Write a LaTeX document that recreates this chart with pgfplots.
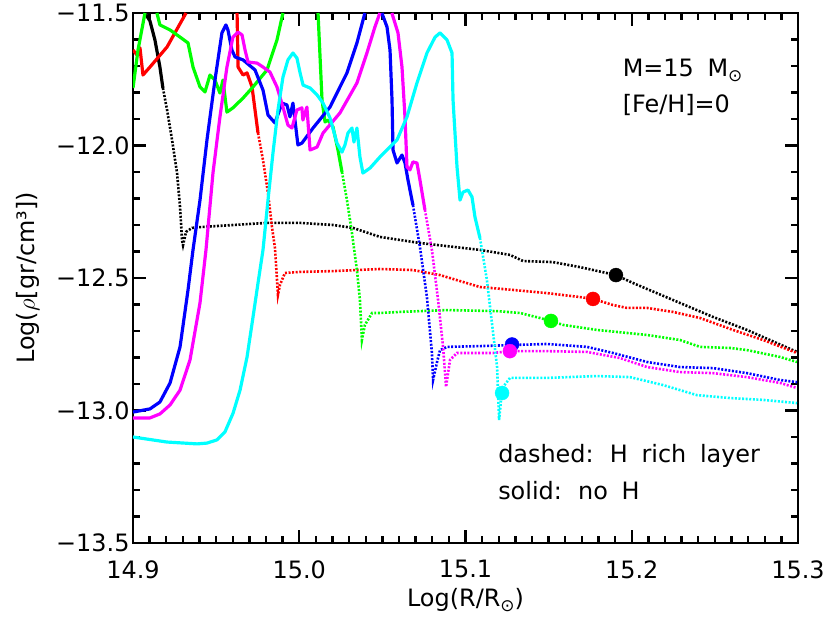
\documentclass[border=0pt]{standalone}
\usepackage{pgfplots}
\pgfplotsset{compat=1.18}
\usepackage{fontspec}
\setmainfont{DejaVu Sans}
\newfontfamily\widefont{DejaVu Sans}[WordSpace=1.8]

\definecolor{cred}{RGB}{255,0,0}
\definecolor{cgreen}{RGB}{0,255,0}
\definecolor{cblue}{RGB}{0,0,255}
\definecolor{cmag}{RGB}{255,0,255}
\definecolor{ccyan}{RGB}{0,255,255}

\newcommand{\sun}{\raisebox{-0.35ex}{\fontsize{17}{19}\selectfont ⊙}}

\pgfplotsset{
  noH/.style={line width=3.2pt, line join=round, no marks},
  richH/.style={line width=2.6pt, dash pattern=on 2pt off 1.6pt, no marks},
  bigdot/.style={only marks, mark=*, mark size=7bp},
}

\begin{document}
\begin{tikzpicture}
\path[use as bounding box] (-133bp,-80bp) rectangle (697bp,543bp);
\begin{axis}[
  at={(0,0)}, anchor=south west,
  scale only axis, width=665bp, height=530bp,
  xmin=14.9, xmax=15.3, ymin=-13.5, ymax=-11.5,
  xtick={14.9,15.0,15.1,15.2,15.3},
  xticklabels={14.9,15.0,15.1,15.2,15.3},
  ytick={-13.5,-13,-12.5,-12,-11.5},
  yticklabels={−13.5,−13.0,−12.5,−12.0,−11.5},
  minor x tick num=9, minor y tick num=4,
  xtick pos=both, ytick pos=both,
  major tick length=13bp, minor tick length=7bp,
  tick style={line width=2.4pt, black},
  axis line style={line width=2.8pt},
  tick label style={font=\fontsize{24}{28}\selectfont},
  xticklabel style={yshift=-14bp},
  label style={font=\fontsize{24}{28}\selectfont},
  xlabel={Log(R/R\sun)},
  ylabel={Log($\rho$[gr/cm³])},
  xlabel style={at={(axis description cs:0.5,-0.108)}, anchor=center},
  ylabel style={at={(axis description cs:-0.158,0.5)}, anchor=center},
  clip=true,
]
% black
\addplot[noH, black] coordinates {
(14.9072,-11.5) (14.9102,-11.530) (14.9132,-11.602) (14.9162,-11.704) (14.9180,-11.783)
};
\addplot[richH, black] coordinates {
(14.9180,-11.783) (14.9205,-11.866) (14.9235,-11.979) (14.9265,-12.104) (14.9283,-12.232)
(14.9295,-12.357) (14.9301,-12.376) (14.9319,-12.326) (14.9355,-12.311) (14.9403,-12.308)
(14.9602,-12.300) (14.9806,-12.292) (15.0005,-12.292) (15.0203,-12.300) (15.0323,-12.311)
(15.0486,-12.345) (15.0726,-12.368) (15.1087,-12.394) (15.1268,-12.413) (15.1346,-12.436)
(15.1526,-12.440) (15.1689,-12.459) (15.1905,-12.489) (15.2008,-12.519) (15.2248,-12.583)
(15.2489,-12.647) (15.2693,-12.696) (15.2994,-12.779)
};
% red
\addplot[noH, cred] coordinates {
(14.9000,-11.640) (14.9024,-11.658) (14.9042,-11.632) (14.9060,-11.734) (14.9102,-11.704)
(14.9205,-11.628) (14.9319,-11.5)
};
\addplot[noH, cred] coordinates {
(14.9626,-11.5) (14.9632,-11.704) (14.9662,-11.734) (14.9686,-11.726) (14.9716,-11.779)
(14.9734,-11.866) (14.9752,-11.953)
};
\addplot[richH, cred] coordinates {
(14.9752,-11.953) (14.9782,-12.055) (14.9812,-12.179) (14.9836,-12.308) (14.9854,-12.387)
(14.9872,-12.564) (14.9884,-12.526) (14.9914,-12.481) (15.0005,-12.477) (15.0203,-12.474)
(15.0486,-12.466) (15.0684,-12.470) (15.0847,-12.489) (15.1087,-12.534) (15.1286,-12.545)
(15.1490,-12.557) (15.1689,-12.572) (15.1767,-12.579) (15.1887,-12.602) (15.1971,-12.613)
(15.2092,-12.613) (15.2248,-12.628) (15.2411,-12.651) (15.2609,-12.696) (15.2790,-12.734)
(15.2994,-12.783)
};
% green
\addplot[noH, cgreen] coordinates {
(14.9000,-11.783) (14.9030,-11.640) (14.9072,-11.5)
};
\addplot[noH, cgreen] coordinates {
(14.9144,-11.5) (14.9162,-11.545) (14.9223,-11.564) (14.9283,-11.591) (14.9331,-11.613)
(14.9361,-11.704) (14.9403,-11.779) (14.9433,-11.798) (14.9463,-11.734) (14.9493,-11.753)
(14.9523,-11.802) (14.9541,-11.753) (14.9565,-11.874) (14.9601,-11.858) (14.9662,-11.821)
(14.9722,-11.779) (14.9806,-11.715) (14.9866,-11.602) (14.9902,-11.5)
};
\addplot[noH, cgreen] coordinates {
(15.0113,-11.5) (15.0137,-11.828) (15.0155,-11.911) (15.0173,-11.904) (15.0203,-11.930)
(15.0233,-12.017) (15.0257,-12.100)
};
\addplot[richH, cgreen] coordinates {
(15.0257,-12.100) (15.0287,-12.206) (15.0317,-12.330) (15.0347,-12.470) (15.0365,-12.583)
(15.0377,-12.734) (15.0395,-12.677) (15.0438,-12.632) (15.0486,-12.632) (15.0606,-12.628)
(15.0889,-12.621) (15.1190,-12.625) (15.1328,-12.632) (15.1448,-12.651) (15.1514,-12.662)
(15.1587,-12.677) (15.1791,-12.696) (15.2092,-12.715) (15.2290,-12.734) (15.2411,-12.760)
(15.2591,-12.764) (15.2693,-12.772) (15.2892,-12.798) (15.2994,-12.817)
};
% blue
\addplot[noH, cblue] coordinates {
(14.9000,-13.006) (14.9102,-12.994) (14.9162,-12.968) (14.9223,-12.896) (14.9283,-12.760)
(14.9331,-12.545) (14.9361,-12.394) (14.9403,-12.206) (14.9445,-11.979) (14.9493,-11.753)
(14.9535,-11.575) (14.9559,-11.545) (14.9571,-11.564) (14.9595,-11.640) (14.9614,-11.666)
(14.9662,-11.677) (14.9734,-11.715) (14.9782,-11.791) (14.9812,-11.885) (14.9854,-11.915)
(14.9896,-11.840) (14.9926,-11.847) (14.9944,-11.892) (14.9962,-11.840) (14.9992,-11.998)
(15.0016,-11.991) (15.0083,-11.934) (15.0185,-11.855) (15.0287,-11.726) (15.0347,-11.613)
(15.0395,-11.5)
};
\addplot[noH, cblue] coordinates {
(15.0497,-11.5) (15.0528,-11.553) (15.0546,-11.640) (15.0558,-11.828) (15.0564,-12.017)
(15.0588,-12.066) (15.0618,-12.036) (15.0636,-12.066) (15.0654,-12.130) (15.0684,-12.225)
};
\addplot[richH, cblue] coordinates {
(15.0684,-12.225) (15.0726,-12.383) (15.0768,-12.572) (15.0798,-12.783) (15.0805,-12.885)
(15.0829,-12.817) (15.0847,-12.772) (15.0889,-12.760) (15.1087,-12.757) (15.1280,-12.753)
(15.1490,-12.749) (15.1731,-12.760) (15.1887,-12.783) (15.2092,-12.817) (15.2290,-12.836)
(15.2489,-12.840) (15.2693,-12.859) (15.2892,-12.885) (15.2994,-12.893)
};
% magenta
\addplot[noH, cmag] coordinates {
(14.9000,-13.028) (14.9102,-13.028) (14.9162,-13.013) (14.9223,-12.979) (14.9283,-12.923)
(14.9343,-12.809) (14.9403,-12.594) (14.9439,-12.394) (14.9481,-12.104) (14.9523,-11.892)
(14.9565,-11.704) (14.9601,-11.591) (14.9632,-11.572) (14.9656,-11.583) (14.9674,-11.640)
(14.9692,-11.685) (14.9746,-11.689) (14.9782,-11.704) (14.9824,-11.723) (14.9866,-11.779)
(14.9902,-11.855) (14.9932,-11.923) (14.9956,-11.934) (14.9986,-11.866) (15.0016,-11.858)
(15.0022,-11.904) (15.0046,-11.855) (15.0065,-12.017) (15.0107,-12.006) (15.0143,-11.953)
(15.0245,-11.877) (15.0347,-11.764) (15.0407,-11.651) (15.0455,-11.553) (15.0485,-11.5)
};
\addplot[noH, cmag] coordinates {
(15.0557,-11.5) (15.0594,-11.575) (15.0618,-11.704) (15.0636,-11.892) (15.0648,-12.081)
(15.0666,-12.092) (15.0684,-12.062) (15.0708,-12.066) (15.0726,-12.130) (15.0756,-12.243)
};
\addplot[richH, cmag] coordinates {
(15.0756,-12.243) (15.0798,-12.394) (15.0835,-12.583) (15.0865,-12.760) (15.0883,-12.911)
(15.0907,-12.809) (15.0949,-12.783) (15.1165,-12.783) (15.1267,-12.776) (15.1490,-12.776)
(15.1731,-12.779) (15.1929,-12.802) (15.2092,-12.836) (15.2290,-12.855) (15.2489,-12.859)
(15.2693,-12.874) (15.2892,-12.896) (15.2994,-12.915)
};
% cyan
\addplot[noH, ccyan] coordinates {
(14.9000,-13.100) (14.9204,-13.119) (14.9385,-13.126) (14.9445,-13.123) (14.9505,-13.111)
(14.9553,-13.081) (14.9602,-13.010) (14.9644,-12.923) (14.9686,-12.798) (14.9722,-12.647)
(14.9752,-12.519) (14.9782,-12.394) (14.9812,-12.206) (14.9842,-12.028) (14.9872,-11.866)
(14.9902,-11.742) (14.9932,-11.677) (14.9962,-11.651) (14.9986,-11.670) (15.0005,-11.726)
(15.0023,-11.772) (15.0065,-11.783) (15.0107,-11.809) (15.0143,-11.840) (15.0185,-11.896)
(15.0227,-11.991) (15.0257,-12.025) (15.0275,-11.998) (15.0293,-11.953) (15.0317,-11.934)
(15.0329,-11.987) (15.0347,-11.934) (15.0365,-12.043) (15.0383,-12.104) (15.0426,-12.085)
(15.0486,-12.043) (15.0588,-11.979) (15.0648,-11.892) (15.0708,-11.764) (15.0768,-11.651)
(15.0817,-11.591) (15.0847,-11.575) (15.0889,-11.602) (15.0919,-11.651) (15.0925,-11.828)
(15.0949,-12.081) (15.0967,-12.206) (15.0985,-12.176) (15.1015,-12.168) (15.1039,-12.194)
(15.1057,-12.270) (15.1087,-12.349)
};
\addplot[richH, ccyan] coordinates {
(15.1087,-12.349) (15.1129,-12.508) (15.1159,-12.670) (15.1190,-12.836) (15.1202,-13.036)
(15.1214,-12.960) (15.1226,-12.911) (15.1268,-12.877) (15.1490,-12.877) (15.1791,-12.870)
(15.1989,-12.874) (15.2188,-12.904) (15.2392,-12.942) (15.2591,-12.953) (15.2790,-12.960)
(15.2994,-12.972)
};
% current position markers
\addplot[bigdot, black] coordinates {(15.1905,-12.489)};
\addplot[bigdot, cred] coordinates {(15.1767,-12.579)};
\addplot[bigdot, cgreen] coordinates {(15.1514,-12.662)};
\addplot[bigdot, cblue] coordinates {(15.1280,-12.751)};
\addplot[bigdot, cmag] coordinates {(15.1267,-12.776)};
\addplot[bigdot, ccyan] coordinates {(15.1220,-12.934)};

\node[anchor=base west, font=\widefont\fontsize{24}{28}\selectfont, inner sep=0pt]
  at (axis cs:15.1945,-11.7415) {M=15 M\sun};
\node[anchor=base west, font=\fontsize{24}{28}\selectfont, inner sep=0pt]
  at (axis cs:15.1945,-11.877) {[Fe/H]=0};
\node[anchor=base west, font=\widefont\fontsize{24}{28}\selectfont, inner sep=0pt]
  at (axis cs:15.1196,-13.198) {dashed: H rich layer};
\node[anchor=base west, font=\widefont\fontsize{24}{28}\selectfont, inner sep=0pt]
  at (axis cs:15.1196,-13.334) {solid: no H};
\end{axis}
\end{tikzpicture}
\end{document}
